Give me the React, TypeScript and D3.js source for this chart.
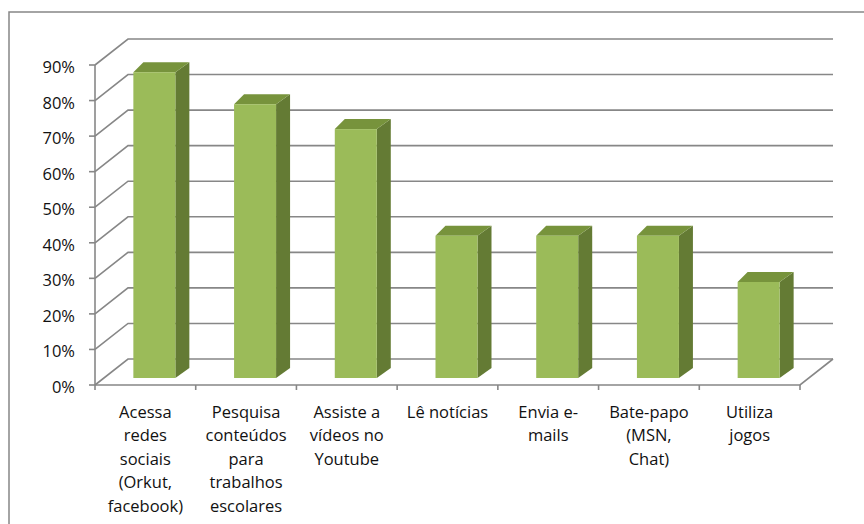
import React from "react";
import * as d3 from "d3";

const categories = [
  "Acessa redes sociais (Orkut, facebook)",
  "Pesquisa conteúdos para trabalhos escolares",
  "Assiste a vídeos no Youtube",
  "Lê notícias",
  "Envia e-mails",
  "Bate-papo (MSN, Chat)",
  "Utiliza jogos",
];
const labelLines = [
  ["Acessa", "redes", "sociais", "(Orkut,", "facebook)"],
  ["Pesquisa", "conteúdos", "para", "trabalhos", "escolares"],
  ["Assiste a", "vídeos no", "Youtube"],
  ["Lê notícias"],
  ["Envia e-", "mails"],
  ["Bate-papo", "(MSN,", "Chat)"],
  ["Utiliza", "jogos"],
];
const values = [0.86, 0.77, 0.7, 0.4, 0.4, 0.4, 0.27];
const yTicks = [0, 0.1, 0.2, 0.3, 0.4, 0.5, 0.6, 0.7, 0.8, 0.9];

const W = 864;
const H = 524;
const FONT = "'Open Sans', 'Noto Sans', sans-serif";

export default function App() {
  const left = 95;
  const right = 800;
  const bottom = 385;
  const top = 65;
  const depthX = 33;
  const depthY = -26;
  const barShiftX = 9;
  const barShiftY = -7;
  const barDepthL = 10;
  const barDepthR = 14;
  const barDepthY = -10;

  const x = d3.scaleBand<string>().domain(categories).range([left, right]).padding(0);
  const xBar = d3
    .scaleBand<string>()
    .domain(categories)
    .range([left, right])
    .paddingInner(0.583)
    .paddingOuter(0.2915);
  const y = d3.scaleLinear().domain([0, 0.9]).range([bottom, top]);
  const fmt = d3.format(".0%");

  const grid = "#878787";
  const front = "#9bbb59";
  const topC = "#77933c";
  const side = "#647b34";
  const textC = "#111";

  const boundaries = categories.map((c) => x(c) as number).concat([right]);

  return (
    <svg
      width={W}
      height={H}
      style={{ position: "absolute", left: 0, top: 0, background: "#fff" }}
      fontFamily={FONT}
    >
      {/* outer frame */}
      <path d={`M9,${H} L9,12 L${W},12`} fill="none" stroke="#868686" strokeWidth={1.5} />

      {/* gridlines: side wall diagonal + back wall horizontal */}
      {yTicks.map((t) => {
        const yy = y(t);
        return (
          <path
            key={"g" + t}
            d={`M${left},${yy} L${left + depthX},${yy + depthY} L${right + depthX},${yy + depthY}`}
            fill="none"
            stroke={grid}
            strokeWidth={1.6}
          />
        );
      })}

      {/* floor front edge and right edge */}
      <path
        d={`M${left},${bottom} L${right},${bottom} L${right + depthX},${bottom + depthY}`}
        fill="none"
        stroke={grid}
        strokeWidth={1.6}
      />
      {/* vertical axis line */}
      <line x1={left} y1={bottom} x2={left} y2={top} stroke={grid} strokeWidth={1.6} />

      {/* y ticks and labels */}
      {yTicks.map((t) => (
        <g key={"yt" + t}>
          <line x1={left - 6} x2={left} y1={y(t)} y2={y(t)} stroke={grid} strokeWidth={1.6} />
          <text x={75} y={y(t) + 8} textAnchor="end" fontSize={16.5} fill={textC}>
            {fmt(t)}
          </text>
        </g>
      ))}

      {/* x ticks */}
      {boundaries.map((b, i) => (
        <line key={"xt" + i} x1={b} x2={b} y1={bottom} y2={bottom + 5} stroke={grid} strokeWidth={1.6} />
      ))}

      {/* bars */}
      {categories.map((c, i) => {
        const x0 = (xBar(c) as number) + barShiftX;
        const x1 = x0 + xBar.bandwidth();
        const yb = bottom + barShiftY;
        const yt = y(values[i]) + barShiftY;
        const topPath = `M${x0},${yt} L${x0 + barDepthL},${yt + barDepthY} L${x1 + barDepthR},${yt + barDepthY} L${x1},${yt} Z`;
        const sidePath = `M${x1},${yt} L${x1 + barDepthR},${yt + barDepthY} L${x1 + barDepthR},${yb + barDepthY} L${x1},${yb} Z`;
        return (
          <g key={"b" + c}>
            <path d={sidePath} fill={side} />
            <path d={topPath} fill={topC} />
            <rect x={x0} y={yt} width={x1 - x0} height={yb - yt} fill={front} />
          </g>
        );
      })}

      {/* category labels */}
      {categories.map((c, i) => {
        const cx = (x(c) as number) + x.bandwidth() / 2;
        return (
          <text key={"l" + c} textAnchor="middle" fontSize={16.5} fill={textC}>
            {labelLines[i].map((ln, j) => (
              <tspan key={j} x={cx} y={418 + j * 23.4}>
                {ln}
              </tspan>
            ))}
          </text>
        );
      })}
    </svg>
  );
}
